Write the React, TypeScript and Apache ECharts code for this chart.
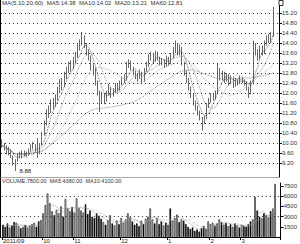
import React, { useEffect, useRef } from "react";
import * as echarts from "echarts";

const opens = [10.0, 9.9, 9.85, 9.6, 9.7, 9.45, 9.15, 9.3, 9.55, 9.45, 9.6, 9.5, 9.55, 9.7, 9.85, 9.9, 9.7, 9.6, 9.95, 10.4, 10.8, 11.2, 11.3, 11.6, 11.5, 11.8, 12.1, 12.4, 12.3, 12.7, 12.9, 13.1, 13.0, 13.3, 13.5, 13.8, 14.0, 14.2, 13.9, 13.6, 13.4, 13.0, 12.9, 12.4, 12.0, 11.8, 11.9, 11.7, 12.0, 12.2, 11.9, 12.1, 12.3, 12.2, 12.4, 12.5, 12.6, 13.1, 13.2, 13.0, 12.8, 12.7, 12.6, 12.8, 12.5, 12.9, 13.1, 13.4, 13.5, 13.3, 13.6, 13.4, 13.2, 13.3, 13.1, 13.4, 13.2, 13.5, 13.7, 13.9, 13.6, 13.8, 13.2, 12.8, 12.5, 12.2, 11.9, 11.6, 11.4, 11.2, 11.0, 10.8, 11.0, 11.5, 11.7, 11.9, 11.8, 12.0, 12.9, 12.6, 12.8, 12.5, 12.7, 12.4, 12.6, 12.3, 12.5, 12.4, 12.6, 12.5, 12.4, 12.2, 12.0, 12.4, 13.9, 13.6, 13.4, 13.8, 13.6, 14.0, 14.2, 14.1, 14.3];
const closes = [9.9, 9.8, 9.6, 9.72, 9.45, 9.2, 9.3, 9.55, 9.48, 9.62, 9.5, 9.58, 9.7, 9.85, 9.9, 9.7, 9.6, 9.95, 10.4, 10.8, 11.2, 11.3, 11.6, 11.5, 11.8, 12.1, 12.4, 12.3, 12.7, 12.9, 13.1, 13.0, 13.3, 13.5, 13.8, 14.0, 14.2, 13.9, 13.6, 13.4, 13.0, 12.9, 12.4, 12.0, 11.8, 11.9, 11.7, 12.0, 12.2, 11.9, 12.1, 12.3, 12.2, 12.4, 12.5, 12.6, 13.1, 13.2, 13.0, 12.8, 12.7, 12.6, 12.8, 12.5, 12.9, 13.1, 13.4, 13.5, 13.3, 13.6, 13.4, 13.2, 13.3, 13.1, 13.4, 13.2, 13.5, 13.7, 13.9, 13.6, 13.8, 13.2, 12.8, 12.5, 12.2, 11.9, 11.6, 11.4, 11.2, 11.0, 10.8, 11.0, 11.5, 11.7, 11.9, 11.8, 12.0, 12.9, 12.6, 12.8, 12.5, 12.7, 12.4, 12.6, 12.3, 12.5, 12.4, 12.6, 12.5, 12.4, 12.2, 12.0, 12.4, 13.9, 13.6, 13.4, 13.8, 13.6, 14.0, 14.2, 14.1, 14.3, 15.3];
const lows = [9.8, 9.7, 9.55, 9.5, 9.4, 9.1, 8.88, 9.25, 9.4, 9.4, 9.45, 9.42, 9.5, 9.65, 9.75, 9.62, 9.4, 9.55, 9.9, 10.3, 10.7, 11.0, 11.2, 11.35, 11.45, 11.7, 12.0, 12.1, 12.25, 12.55, 12.8, 12.85, 12.95, 13.2, 13.4, 13.7, 13.9, 13.8, 13.5, 13.3, 12.9, 12.7, 12.3, 11.9, 11.24, 11.6, 11.55, 11.65, 11.9, 11.8, 11.85, 12.0, 12.05, 12.1, 12.3, 12.4, 12.5, 13.0, 12.9, 12.7, 12.55, 12.45, 12.55, 12.4, 12.45, 12.85, 13.05, 13.3, 13.2, 13.25, 13.3, 13.1, 13.1, 13.0, 13.05, 13.1, 13.15, 13.4, 13.6, 13.5, 13.5, 13.1, 12.7, 12.4, 12.1, 11.8, 11.5, 11.3, 11.1, 10.9, 10.5, 10.75, 10.95, 11.4, 11.6, 11.7, 11.75, 11.95, 12.5, 12.5, 12.4, 12.45, 12.3, 12.35, 12.2, 12.25, 12.3, 12.35, 12.4, 12.3, 12.1, 11.8, 11.95, 12.35, 13.5, 13.3, 13.35, 13.5, 13.55, 13.9, 14.0, 14.0, 14.25];
const highs = [10.15, 10.0, 9.9, 9.85, 9.75, 9.5, 9.35, 9.6, 9.65, 9.7, 9.7, 9.66, 9.78, 9.95, 10.05, 9.95, 10.2, 10.0, 10.45, 10.9, 11.35, 11.5, 11.75, 11.8, 11.95, 12.25, 12.55, 12.6, 12.85, 13.05, 13.25, 13.3, 13.45, 13.65, 13.95, 14.15, 14.44, 14.3, 14.0, 13.75, 13.5, 13.15, 13.0, 12.5, 12.1, 12.05, 12.0, 12.1, 12.35, 12.25, 12.2, 12.4, 12.4, 12.5, 12.65, 12.75, 13.25, 13.35, 13.3, 13.05, 12.9, 12.8, 12.95, 12.85, 13.0, 13.25, 13.55, 13.65, 13.6, 13.7, 13.65, 13.45, 13.4, 13.35, 13.5, 13.45, 13.6, 13.85, 14.1, 14.0, 13.95, 13.85, 13.25, 12.9, 12.6, 12.25, 12.0, 11.7, 11.5, 11.3, 11.05, 11.1, 11.6, 11.8, 12.0, 12.0, 12.1, 13.2, 13.0, 12.9, 12.85, 12.8, 12.75, 12.7, 12.65, 12.6, 12.55, 12.7, 12.65, 12.55, 12.45, 12.25, 12.5, 14.1, 14.0, 13.75, 13.9, 13.9, 14.1, 14.3, 14.35, 14.45, 15.44];
const volumes = [1800, 1500, 2000, 1400, 1700, 2200, 2100, 1600, 1300, 1500, 1800, 1400, 1700, 1900, 2100, 1500, 2300, 2500, 3500, 4700, 6400, 5000, 3800, 3200, 4000, 3500, 4500, 3000, 5600, 4200, 3800, 4400, 3600, 5700, 4300, 3900, 3600, 4800, 3400, 3900, 3000, 2800, 3500, 3100, 2700, 2200, 1800, 2500, 3200, 2000, 1700, 2400, 1900, 2800, 2100, 2600, 3500, 2900, 2300, 1800, 2000, 1600, 2400, 1900, 2700, 3000, 4200, 2600, 2000, 2800, 1900, 2300, 1700, 2100, 1800, 4200, 2400, 2800, 3300, 2200, 2600, 2400, 1900, 1500, 1200, 1400, 900, 1100, 800, 1300, 1600, 1200, 2300, 1900, 2100, 1700, 2000, 2600, 2200, 1800, 2100, 1600, 1900, 1500, 2000, 1700, 1400, 1800, 1600, 1500, 1900, 2300, 2600, 5900, 3900, 3000, 2800, 3500, 3200, 2900, 3800, 4200, 7800];

const priceTicks = [9.2, 9.6, 10.0, 10.4, 10.8, 11.2, 11.6, 12.0, 12.4, 12.8, 13.2, 13.6, 14.0, 14.4, 14.8, 15.2];
const volumeTicks = [1500, 3000, 4500, 6000, 7500];
const volumeGridValues = [3000, 6000];
const monthTickIndex = [0, 18, 32, 53, 74, 93, 107];
const monthTickLabels = ["2011/09", "10", "11", "12", "1", "2", "3"];
const maPeriods = [5, 10, 20, 60];
const maColors = ["#444", "#777", "#999", "#666"];
const volMaPeriods = [5, 10];
const padCount = 2;

function movingAverage(src: number[], n: number): (number | string)[] {
  const out: (number | string)[] = [];
  let sum = 0;
  for (let i = 0; i < src.length; i++) {
    sum += src[i];
    if (i >= n) sum -= src[i - n];
    const cnt = Math.min(i + 1, n);
    out.push(+(sum / cnt).toFixed(3));
  }
  return out;
}

export default function App() {
  const ref = useRef<HTMLDivElement>(null);
  useEffect(() => {
    if (!ref.current) return;
    const chart = echarts.init(ref.current, null, { renderer: "svg" });
    const n = closes.length;
    const categories = Array.from({ length: n + padCount }, (_, i) => String(i));
    const candleData = closes.map((c, i) => [opens[i], c, lows[i], highs[i]]);
    const volData = volumes.map((v, i) => ({
      value: v,
      itemStyle: closes[i] >= opens[i]
        ? { color: "#fff", borderColor: "#000", borderWidth: 0.6 }
        : { color: "#000", borderColor: "#000", borderWidth: 0.6 },
    }));
    const maSeries = maPeriods.map((p, k) => ({
      type: "line",
      name: "MA" + p,
      xAxisIndex: 0,
      yAxisIndex: 0,
      data: movingAverage(closes, p),
      symbol: "none",
      silent: true,
      lineStyle: { color: maColors[k], width: 0.8, type: "dotted" },
    }));
    const volMaSeries = volMaPeriods.map((p, k) => ({
      type: "line",
      name: "VMA" + p,
      xAxisIndex: 1,
      yAxisIndex: 1,
      data: movingAverage(volumes, p),
      symbol: "none",
      silent: true,
      lineStyle: { color: k === 0 ? "#888" : "#aaa", width: 0.8, type: "dotted" },
    }));
    const lastMa = maPeriods.map((p) => {
      const arr = movingAverage(closes, p);
      return (arr[arr.length - 1] as number).toFixed(2);
    });
    const lastVma = volMaPeriods.map((p) => {
      const arr = movingAverage(volumes, p);
      return (arr[arr.length - 1] as number).toFixed(2);
    });
    const font = "Liberation Sans";
    const isMonth = (idx: number) => monthTickIndex.indexOf(idx) >= 0;
    const gridLineStyle = { type: [1, 3] as any, color: "#333", width: 1 };
    chart.setOption({
      animation: false,
      backgroundColor: "#fff",
      textStyle: { fontFamily: font },
      grid: [
        { left: 1, right: 16, top: 6, height: 171 },
        { left: 1, right: 16, top: 183, height: 54 },
      ],
      xAxis: [
        {
          type: "category",
          gridIndex: 0,
          data: categories,
          boundaryGap: true,
          axisLine: { show: true, lineStyle: { color: "#aaa", width: 1 } },
          axisTick: { show: false },
          axisLabel: { show: false },
          splitLine: { show: false },
        },
        {
          type: "category",
          gridIndex: 1,
          data: categories,
          boundaryGap: true,
          axisLine: { show: true, lineStyle: { color: "#000", width: 1 } },
          axisTick: { show: true, length: 3, interval: (i: number) => isMonth(i), lineStyle: { color: "#000" } },
          axisLabel: {
            show: true,
            interval: (i: number) => isMonth(i),
            formatter: (_v: string, i: number) => {
              const k = monthTickIndex.indexOf(i);
              return k >= 0 ? monthTickLabels[k] : "";
            },
            fontSize: 6,
            color: "#222",
            margin: 1,
            align: "left",
          },
          splitLine: { show: false },
        },
      ],
      yAxis: [
        {
          type: "value",
          gridIndex: 0,
          position: "right",
          min: 8.64,
          max: 15.48,
          axisLine: { show: true, lineStyle: { color: "#000" } },
          axisTick: { show: true, length: 3, customValues: priceTicks, lineStyle: { color: "#000" } },
          axisLabel: {
            show: true,
            customValues: priceTicks,
            formatter: (v: number) => v.toFixed(2),
            fontSize: 6,
            color: "#333",
            margin: 3,
          },
          splitLine: { show: false },
        },
        {
          type: "value",
          gridIndex: 1,
          position: "right",
          min: 0,
          max: 7950,
          axisLine: { show: true, lineStyle: { color: "#000" } },
          axisTick: { show: true, length: 3, customValues: volumeTicks, lineStyle: { color: "#000" } },
          axisLabel: {
            show: true,
            customValues: volumeTicks,
            formatter: (v: number) => String(v),
            fontSize: 6,
            color: "#333",
            margin: 3,
          },
          splitLine: { show: false },
        },
      ],
      series: [
        {
          type: "candlestick",
          xAxisIndex: 0,
          yAxisIndex: 0,
          data: candleData,
          barMaxWidth: 1.8,
          itemStyle: {
            color: "#fff",
            color0: "#000",
            borderColor: "#000",
            borderColor0: "#000",
            borderWidth: 0.6,
          },
          markLine: {
            silent: true,
            symbol: "none",
            label: { show: false },
            lineStyle: gridLineStyle,
            data: priceTicks.map((v) => ({ yAxis: v })),
          },
          markPoint: {
            symbol: "circle",
            symbolSize: 0,
            label: {
              show: true,
              position: "right",
              distance: 4,
              fontSize: 6,
              color: "#222",
              formatter: (p: any) => Number(p.value).toFixed(2),
            },
            data: [{ type: "min", valueDim: "lowest" }],
          },
        },
        ...maSeries,
        {
          type: "bar",
          xAxisIndex: 1,
          yAxisIndex: 1,
          data: volData,
          barWidth: "70%",
          markLine: {
            silent: true,
            symbol: "none",
            label: { show: false },
            lineStyle: gridLineStyle,
            data: volumeGridValues.map((v) => ({ yAxis: v })),
          },
        },
        ...volMaSeries,
      ],
      graphic: [
        { type: "line", shape: { x1: 0.5, y1: 0, x2: 0.5, y2: 238 }, style: { stroke: "#000", lineWidth: 1 } },
        {
          type: "text",
          left: 2,
          top: 0,
          style: {
            text: "MA(5,10,20,60)  MA5:" + lastMa[0] + "  MA10:" + lastMa[1] + "  MA20:" + lastMa[2] + "  MA60:" + lastMa[3],
            fontSize: 6,
            fill: "#333",
            fontFamily: font,
          },
        },
        {
          type: "text",
          left: 2,
          top: 178,
          style: {
            text: "VOLUME:" + volumes[volumes.length - 1].toFixed(2) + "  MA5:" + lastVma[0] + "  MA10:" + lastVma[1],
            fontSize: 5.5,
            fill: "#333",
            fontFamily: font,
          },
        },
        { type: "rect", shape: { x: 279, y: 0.5, width: 4, height: 5 }, style: { fill: "#fff", stroke: "#000", lineWidth: 0.8 } },
      ],
    });
    return () => chart.dispose();
  }, []);
  return <div ref={ref} style={{ position: "fixed", left: 0, top: 0, width: 300, height: 244 }} />;
}
